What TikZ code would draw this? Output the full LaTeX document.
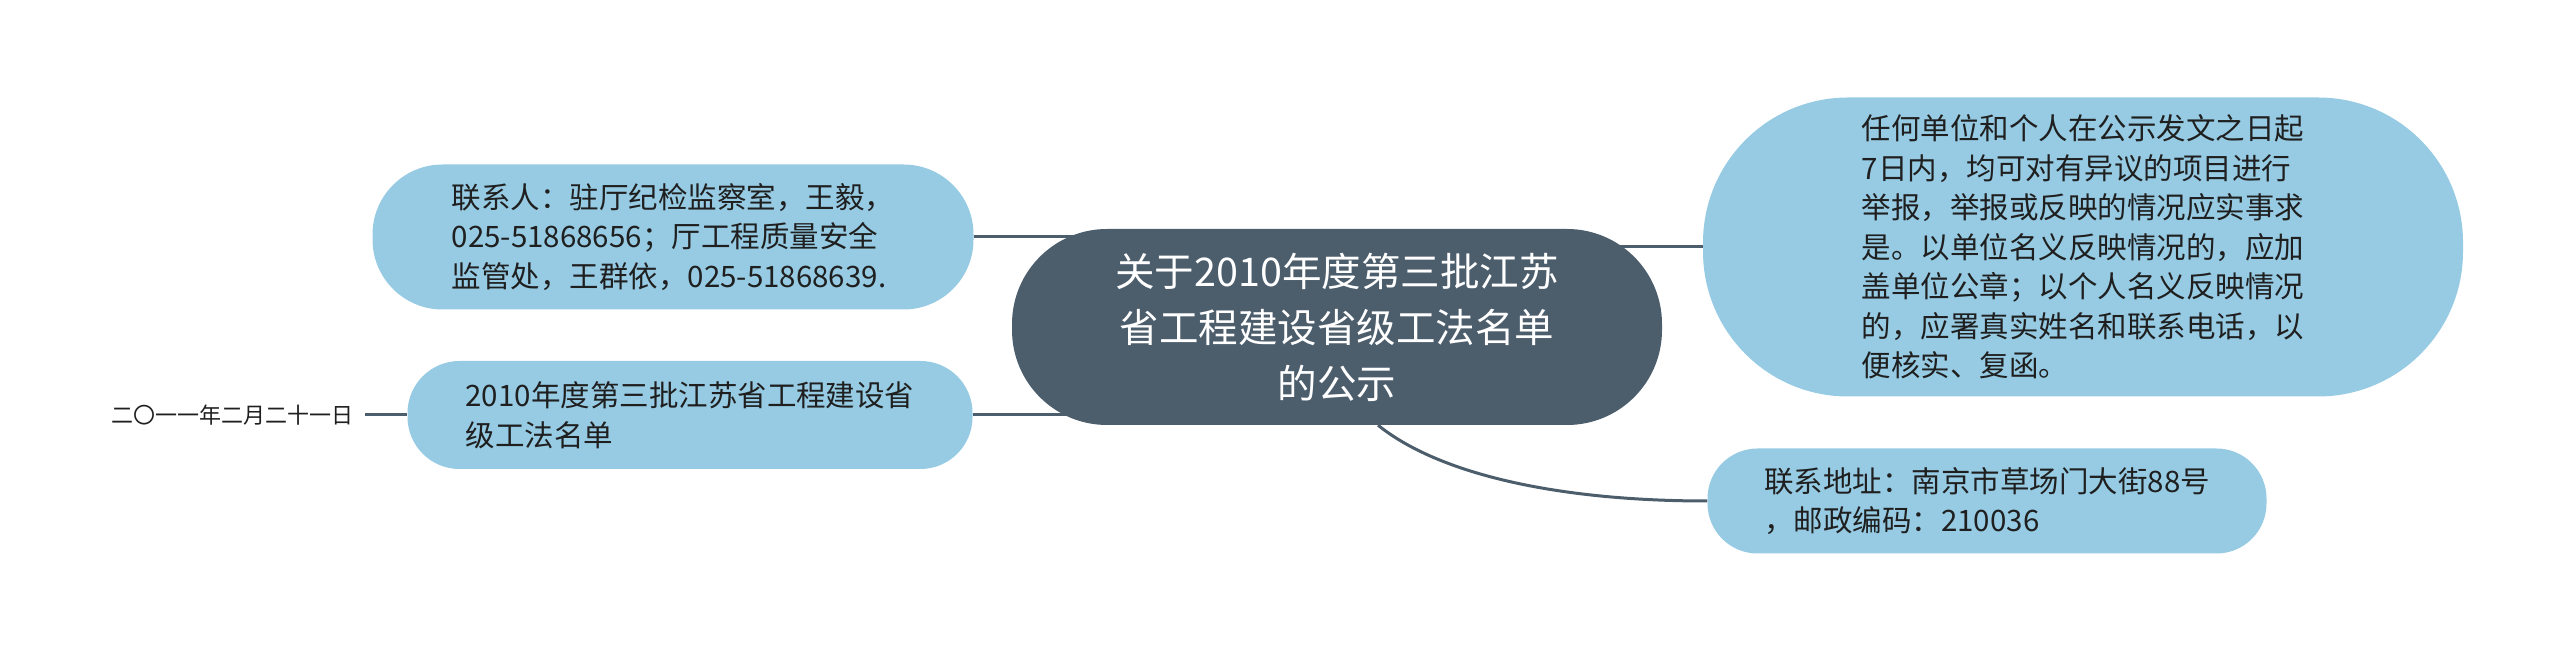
\documentclass[tikz,border=0pt]{standalone}
\usepackage{fontspec}
\setmainfont{Noto Sans CJK SC}
\usetikzlibrary{backgrounds}

\definecolor{slate}{HTML}{4C5D6C}
\definecolor{skyblue}{HTML}{96CBE3}
\definecolor{inkdark}{HTML}{1F1F1F}

\tikzset{
  topic/.style={fill=slate, text=white, align=center, inner sep=0pt,
    font=\fontsize{39.5}{56}\selectfont},
  subtopic/.style={fill=skyblue, text=inkdark, align=left, inner sep=0pt,
    font=\fontsize{29.5}{39.5}\selectfont},
  leaftext/.style={text=inkdark, inner sep=12pt, font=\fontsize{22}{28}\selectfont},
  branch/.style={draw=slate, line width=3pt}
}

\begin{document}
\begin{tikzpicture}[x=1pt,y=1pt]
\useasboundingbox (0,0) rectangle (2560,653);

% Central topic
\node[topic, minimum width=650pt, minimum height=196pt, rounded corners=95pt] (root) at (1337,326)
  {关于2010年度第三批江苏\\省工程建设省级工法名单\\的公示};

% Left branches
\node[subtopic, minimum width=601pt, minimum height=145pt, rounded corners=70pt] (contact) at (673,416)
  {联系人：驻厅纪检监察室，王毅，\\025-51868656；厅工程质量安全\\监管处，王群依，025-51868639.};
\node[subtopic, minimum width=565pt, minimum height=108pt, rounded corners=52pt] (list) at (690,238)
  {2010年度第三批江苏省工程建设省\\级工法名单};
\node[leaftext] (date) at (232,238) {二〇一一年二月二十一日};

% Right branches
\node[subtopic, minimum width=760pt, minimum height=299pt, rounded corners=145pt] (notice) at (2083,406)
  {任何单位和个人在公示发文之日起\\7日内，均可对有异议的项目进行\\举报，举报或反映的情况应实事求\\是。以单位名义反映情况的，应加\\盖单位公章；以个人名义反映情况\\的，应署真实姓名和联系电话，以\\便核实、复函。};
\node[subtopic, minimum width=559pt, minimum height=105pt, rounded corners=50pt] (address) at (1987,152)
  {联系地址：南京市草场门大街88号\\，邮政编码：210036};

% Connectors
\begin{scope}[on background layer]
\draw[branch] (contact.east) -- (contact.east -| root.center);
\draw[branch] (list.east) -- (list.east -| root.center);
\draw[branch] (date.east) -- (list.west);
\draw[branch] (notice.west) -- (notice.west -| root.center);
\draw[branch] ([xshift=41pt]root.south) .. controls +(61,-49) and +(-150,0) .. (address.west);
\end{scope}

\end{tikzpicture}
\end{document}
